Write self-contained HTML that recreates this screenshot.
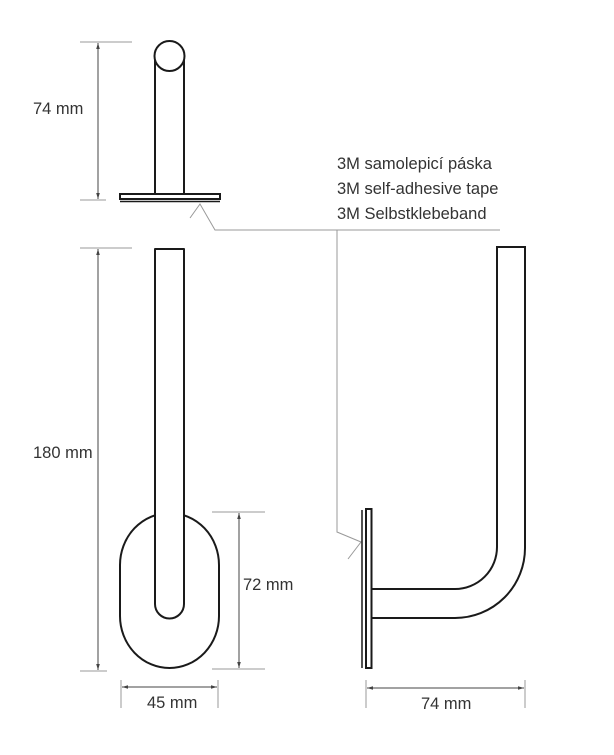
<!DOCTYPE html>
<html><head><style>
body{margin:0;background:#fff}
svg text{font-family:"Liberation Sans",sans-serif;fill:#333}
</style></head><body>
<svg width="614" height="750" viewBox="0 0 614 750" xmlns="http://www.w3.org/2000/svg">
<defs>
<marker id="a" viewBox="0 0 10 10" refX="10" refY="5" markerWidth="6" markerHeight="6" orient="auto-start-reverse"><path d="M0,2 L10,5 L0,8 z" fill="#444"/></marker>
</defs>
<g stroke="#999" stroke-width="1" fill="none">
<line x1="80" y1="42" x2="132" y2="42"/>
<line x1="80" y1="200" x2="106" y2="200"/>
<line x1="80" y1="248" x2="132" y2="248"/>
<line x1="80" y1="671" x2="107" y2="671"/>
<line x1="212" y1="512" x2="265" y2="512"/>
<line x1="212" y1="669" x2="265" y2="669"/>
<line x1="121" y1="680" x2="121" y2="708"/>
<line x1="218" y1="680" x2="218" y2="708"/>
<line x1="366" y1="680" x2="366" y2="708"/>
<line x1="525" y1="680" x2="525" y2="708"/>
<polyline points="190,218 200,204 215,230 500,230"/>
<polyline points="337,230 337,532 361,542 348,559"/>
</g>
<g stroke="#444" stroke-width="1" marker-start="url(#a)" marker-end="url(#a)">
<line x1="98" y1="43" x2="98" y2="199"/>
<line x1="98" y1="249" x2="98" y2="670"/>
<line x1="239" y1="513" x2="239" y2="668"/>
<line x1="122" y1="687" x2="217" y2="687"/>
<line x1="367" y1="688" x2="524" y2="688"/>
</g>
<g stroke="#1a1a1a" stroke-width="2" fill="#fff">
<rect x="155" y="56" width="29" height="139"/>
<circle cx="169.5" cy="56" r="15"/>
<rect x="120" y="194" width="100" height="5"/>
<line x1="120" y1="201.5" x2="220" y2="201.5" stroke-width="1.5"/>
<rect x="120" y="513" width="99" height="155" rx="49.5" ry="52"/>
<path d="M155,249 L184,249 L184,604 A14.5,14.5 0 0 1 155,604 Z" stroke-linejoin="round"/>
<line x1="362" y1="510" x2="362" y2="668" stroke-width="1.5"/>
<rect x="366" y="509" width="5.5" height="159"/>
<path d="M372,589 L455,589 A42,42 0 0 0 497,547 L497,247 L525,247 L525,548 A70,70 0 0 1 455,618 L372,618" fill="none"/>
</g>
<g font-size="16.5">
<text x="33" y="114">74 mm</text>
<text x="33" y="458">180 mm</text>
<text x="243" y="590">72 mm</text>
<text x="147" y="708">45 mm</text>
<text x="421" y="709">74 mm</text>
<text x="337" y="169">3M samolepicí páska</text>
<text x="337" y="194">3M self-adhesive tape</text>
<text x="337" y="219">3M Selbstklebeband</text>
</g>
</svg>
</body></html>
